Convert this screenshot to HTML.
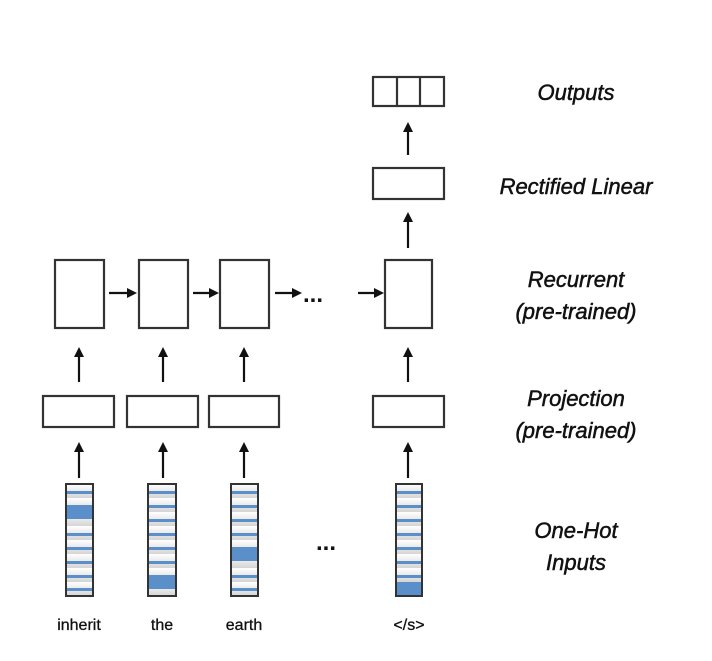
<html><body style="margin:0;background:#fff">
<svg width="712" height="661" xmlns="http://www.w3.org/2000/svg">
<defs><marker id="a" markerWidth="10" markerHeight="10" refX="7" refY="5" orient="auto" markerUnits="userSpaceOnUse"><path d="M0,0 L10,5 L0,10z" fill="#111"/></marker>
<linearGradient id="g" x1="0" y1="0" x2="0" y2="1" spreadMethod="repeat"><stop offset="0" stop-color="#fff"/><stop offset="1" stop-color="#d8d8d8"/></linearGradient>
<pattern id="p" width="30" height="14" patternUnits="userSpaceOnUse"><rect width="30" height="14" fill="url(#g2)"/></pattern>
<linearGradient id="g2" x1="0" y1="0" x2="0" y2="1"><stop offset="0" stop-color="#fff"/><stop offset="1" stop-color="#d4d4d4"/></linearGradient></defs>
<g fill="#fff" stroke="#333" stroke-width="2.2">
<rect x="55" y="260" width="49" height="68"/><rect x="139" y="260" width="49" height="68"/><rect x="220" y="260" width="49" height="68"/><rect x="385" y="260" width="47" height="68"/>
<rect x="43" y="396" width="71" height="31"/><rect x="127" y="396" width="71" height="31"/><rect x="209" y="396" width="70" height="31"/><rect x="373" y="396" width="71" height="31"/>
<rect x="373" y="168" width="71" height="31"/>
<rect x="373" y="77" width="71" height="29"/><line x1="397" y1="77" x2="397" y2="106"/><line x1="420" y1="77" x2="420" y2="106"/>
</g>
<g stroke="#111" stroke-width="2.2" marker-end="url(#a)">
<line x1="109" y1="293" x2="134" y2="293"/><line x1="193" y1="293" x2="216" y2="293"/><line x1="275" y1="293" x2="299" y2="293"/><line x1="358" y1="293" x2="381" y2="293"/>
<line x1="79" y1="382" x2="79" y2="350"/><line x1="163" y1="382" x2="163" y2="350"/><line x1="244" y1="382" x2="244" y2="350"/><line x1="408" y1="382" x2="408" y2="350"/>
<line x1="79" y1="478" x2="79" y2="445"/><line x1="163" y1="478" x2="163" y2="445"/><line x1="244" y1="478" x2="244" y2="445"/><line x1="408" y1="478" x2="408" y2="445"/>
<line x1="408" y1="248" x2="408" y2="215"/><line x1="408" y1="155" x2="408" y2="125"/>
</g>
<g font-family="Liberation Sans, sans-serif" font-size="24" font-weight="bold" fill="#111"><text x="303" y="302">...</text><text x="316" y="550">...</text></g>
<g font-family="Liberation Sans, sans-serif" font-size="16" fill="#111" stroke="#111" stroke-width="0.3" text-anchor="middle">
<text x="79" y="630">inherit</text><text x="162" y="630">the</text><text x="244" y="630">earth</text><text x="409" y="630">&lt;/s&gt;</text></g>
<g font-family="Liberation Sans, sans-serif" font-size="22" font-style="italic" fill="#111" stroke="#111" stroke-width="0.5" text-anchor="middle">
<text x="576" y="100">Outputs</text><text x="576" y="194">Rectified Linear</text>
<text x="576" y="287">Recurrent</text><text x="576" y="319">(pre-trained)</text>
<text x="576" y="406">Projection</text><text x="576" y="438">(pre-trained)</text>
<text x="576" y="538">One-Hot</text><text x="576" y="570">Inputs</text></g>
<g>
<g transform="translate(66,484)">
<rect width="27" height="112" fill="url(#p)"/><g fill="#5b8fc9"><rect y="7" width="27" height="3"/><rect y="21" width="27" height="14"/><rect y="49" width="27" height="3"/><rect y="63" width="27" height="3"/><rect y="77" width="27" height="3"/><rect y="91" width="27" height="3"/><rect y="104" width="27" height="3"/></g><rect width="27" height="112" fill="none" stroke="#333" stroke-width="2"/></g>
<g transform="translate(148,484)">
<rect width="28" height="112" fill="url(#p)"/><g fill="#5b8fc9"><rect y="7" width="28" height="3"/><rect y="21" width="28" height="3"/><rect y="35" width="28" height="3"/><rect y="49" width="28" height="3"/><rect y="63" width="28" height="3"/><rect y="77" width="28" height="3"/><rect y="91" width="28" height="14"/></g><rect width="28" height="112" fill="none" stroke="#333" stroke-width="2"/></g>
<g transform="translate(231,484)">
<rect width="27" height="112" fill="url(#p)"/><g fill="#5b8fc9"><rect y="7" width="27" height="3"/><rect y="21" width="27" height="3"/><rect y="35" width="27" height="3"/><rect y="49" width="27" height="3"/><rect y="63" width="27" height="14"/><rect y="91" width="27" height="3"/><rect y="104" width="27" height="3"/></g><rect width="27" height="112" fill="none" stroke="#333" stroke-width="2"/></g>
<g transform="translate(396,484)">
<rect width="26" height="112" fill="url(#p)"/><g fill="#5b8fc9"><rect y="7" width="26" height="3"/><rect y="21" width="26" height="3"/><rect y="35" width="26" height="3"/><rect y="49" width="26" height="3"/><rect y="63" width="26" height="3"/><rect y="77" width="26" height="3"/><rect y="91" width="26" height="3"/><rect y="98" width="26" height="14"/></g><rect width="26" height="112" fill="none" stroke="#333" stroke-width="2"/></g>
</g>
</svg></body></html>
